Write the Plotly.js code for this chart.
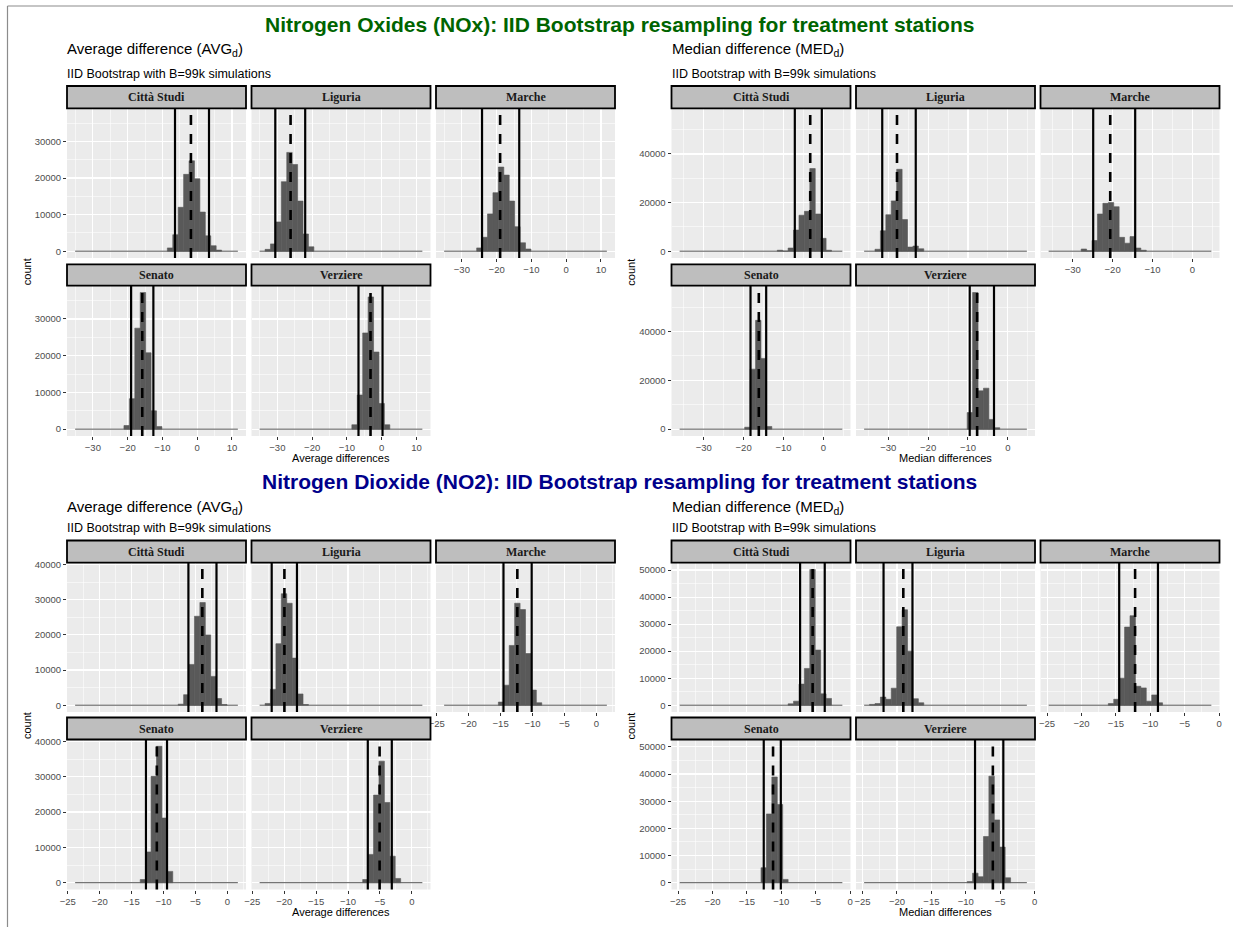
<!DOCTYPE html>
<html><head><meta charset="utf-8">
<script src="https://cdn.plot.ly/plotly-3.0.1.min.js"></script>
<style>html,body{margin:0;padding:0;background:#fff}</style>
</head><body><div id="chart" style="width:1233px;height:927px"></div>
<script>
// ---------------- DATA ----------------
const stations = ["Città Studi", "Liguria", "Marche", "Senato", "Verziere"];
const mainTitles = ["Nitrogen Oxides (NOx): IID Bootstrap resampling for treatment stations",
                    "Nitrogen Dioxide (NO2): IID Bootstrap resampling for treatment stations"];
const panelTitles = ["Average difference (AVG<sub>d</sub>)", "Median difference (MED<sub>d</sub>)",
                     "Average difference (AVG<sub>d</sub>)", "Median difference (MED<sub>d</sub>)"];
const subtitle = "IID Bootstrap with B=99k simulations";
const xTitles = ["Average differences", "Median differences", "Average differences", "Median differences"];
const yTitle = "count";

// histogram bins (30 bins): left edge of first bin, bin width  [NOx AVG, NOx MED, NO2 AVG, NO2 MED]
const binLeft = [-35.1, -36.04, -23.85, -24.77];
const binWidth = [1.56, 1.36, 0.85, 0.788];
const nBins = 30;

// tick labels
const xTicks = [[-30, -20, -10, 0, 10], [-30, -20, -10, 0], [-25, -20, -15, -10, -5, 0], [-25, -20, -15, -10, -5, 0]];
const yTicks = [[0, 10000, 20000, 30000], [0, 20000, 40000], [0, 10000, 20000, 30000, 40000], [0, 10000, 20000, 30000, 40000, 50000]];

// NOx - average difference
const noxAvgFirstBin = [17, 1, 6, 9, 17];
const noxAvgCounts = [
  [900, 4500, 12000, 21000, 24700, 19800, 10700, 4200, 1500, 300],
  [500, 2000, 8000, 19000, 27000, 23700, 13700, 4700, 1200],
  [900, 3800, 10200, 16000, 23000, 20800, 13700, 6700, 2300, 600],
  [1000, 8300, 27500, 37200, 20800, 5000, 700],
  [1200, 9300, 26200, 36000, 21000, 7000, 1200]];
const noxAvgLower = [-6.38, -30.6, -24.2, -19.0, -6.67];
const noxAvgMean  = [-1.8, -26.2, -19.0, -15.8, -3.21];
const noxAvgUpper = [3.4, -22.0, -13.5, -12.6, 0.24];

// NOx - median difference
const noxMedFirstBin = [18, 2, 6, 12, 19];
const noxMedCounts = [
  [400, 0, 1300, 8700, 14800, 16400, 34000, 15300, 5300, 400],
  [800, 8400, 15000, 20700, 33700, 13000, 1700, 2100, 1000],
  [900, 200, 4400, 15300, 19700, 20000, 18300, 5700, 3300, 6000, 1300, 400],
  [800, 24600, 44600, 29000, 1100],
  [6800, 56000, 15700, 16800, 4000, 600]];
const noxMedLower = [-7.16, -31.5, -24.87, -18.27, -9.57];
const noxMedMean  = [-3.3, -27.8, -20.6, -16.19, -7.71];
const noxMedUpper = [-0.39, -23.1, -14.34, -14.34, -3.48];

// NO2 - average difference
const no2AvgFirstBin = [19, 1, 10, 12, 19];
const no2AvgCounts = [
  [300, 3000, 11600, 25300, 29200, 20000, 8200, 1900, 200],
  [500, 4500, 17500, 31700, 29000, 13400, 3200, 200],
  [900, 5700, 17000, 29000, 27200, 14700, 4300, 700],
  [900, 8700, 30100, 38600, 18300, 3200],
  [900, 8000, 24800, 34400, 22700, 7500, 1200]];
const no2AvgLower = [-6.1, -21.96, -14.55, -12.75, -6.9];
const no2AvgMean  = [-3.92, -19.97, -12.38, -11.05, -5.05];
const no2AvgUpper = [-1.7, -18.0, -10.13, -9.45, -3.14];

// NO2 - median difference
const no2MedFirstBin = [20, 1, 11, 15, 19];
const no2MedCounts = [
  [500, 1500, 7800, 13600, 50200, 20400, 4200, 2500],
  [300, 600, 3000, 2200, 6300, 29000, 35300, 20000, 2400, 900],
  [600, 2200, 10000, 28900, 33100, 7000, 6400, 1500, 3800, 900],
  [5500, 25300, 38900, 28800, 1200],
  [400, 3500, 2200, 17000, 39200, 23100, 13100, 1800]];
const no2MedLower = [-7.27, -21.95, -14.52, -12.55, -8.66];
const no2MedMean  = [-5.45, -19.08, -12.21, -11.2, -6.07];
const no2MedUpper = [-3.69, -17.75, -8.89, -10.07, -4.55];

const firstBins = [noxAvgFirstBin, noxMedFirstBin, no2AvgFirstBin, no2MedFirstBin];
const counts = [noxAvgCounts, noxMedCounts, no2AvgCounts, no2MedCounts];
const lowers = [noxAvgLower, noxMedLower, no2AvgLower, no2MedLower];
const means = [noxAvgMean, noxMedMean, no2AvgMean, no2MedMean];
const uppers = [noxAvgUpper, noxMedUpper, no2AvgUpper, no2MedUpper];

// ---------------- LAYOUT GEOMETRY (pixels) ----------------
const W = 1233, H = 927;
const colLeft = [[67, 251.5, 436], [671.5, 856, 1040.5]];
const panelW = 179;
const blockGeom = [
  {strip: [[86, 108.3], [264.3, 285.7]], plot: [[108.3, 258], [285.7, 436]], main: 24, ptitle: 50, sub: 74, xt: 458},
  {strip: [[540.5, 562.7], [717.5, 739.5]], plot: [[562.7, 712], [739.5, 889.5]], main: 481, ptitle: 507, sub: 528, xt: 911.5}
];
const titleColors = ["#006400", "#00008B"];
const fontSans = "Liberation Sans, Arial, sans-serif";
const fontSerif = "Liberation Serif, Times New Roman, serif";
const px = x => x / W;
const py = y => 1 - y / H;

const data = [];
const layout = {
  width: W, height: H, margin: {l: 0, r: 0, t: 0, b: 0},
  paper_bgcolor: "#ffffff", plot_bgcolor: "#EBEBEB",
  showlegend: false, hovermode: false, barmode: "overlay",
  shapes: [], annotations: []
};

for (let p = 0; p < 4; p++) {
  const half = p % 2, block = Math.floor(p / 2);
  const g = blockGeom[block];
  const L = binLeft[p], w = binWidth[p], R = L + nBins * w;
  const xr = [L - 0.05 * (R - L), R + 0.05 * (R - L)];
  let M = 0;
  counts[p].forEach(arr => arr.forEach(v => { if (v > M) M = v; }));
  const yr = [-0.05 * M, 1.05 * M];
  const xd = xTicks[p][1] - xTicks[p][0];
  const yd = yTicks[p][1] - yTicks[p][0];

  for (let f = 0; f < 5; f++) {
    const s = p * 5 + f + 1;
    const sx = s === 1 ? "" : String(s);
    const col = f % 3, row = Math.floor(f / 3);
    const x0 = colLeft[half][col], x1 = x0 + panelW;
    const [yt, yb] = g.plot[row];
    const showX = row === 1 || col === 2;
    const showY = col === 0;

    layout["xaxis" + sx] = {
      domain: [px(x0), px(x1)], anchor: "y" + sx, range: xr,
      tickmode: "array", tickvals: xTicks[p], tickformat: "d",
      showgrid: true, gridcolor: "#ffffff", gridwidth: 1.1, zeroline: false, showline: false,
      minor: {tickmode: "linear", tick0: 0, dtick: xd / 2, showgrid: true, gridcolor: "#ffffff", gridwidth: 0.55},
      ticks: showX ? "outside" : "", ticklen: 3, tickcolor: "#333333", tickwidth: 1,
      showticklabels: showX, tickfont: {family: fontSans, size: 9.5, color: "#4D4D4D"},
      automargin: false, fixedrange: true
    };
    layout["yaxis" + sx] = {
      domain: [py(yb), py(yt)], anchor: "x" + sx, range: yr,
      tickmode: "array", tickvals: yTicks[p], tickformat: "d",
      showgrid: true, gridcolor: "#ffffff", gridwidth: 1.1, zeroline: false, showline: false,
      minor: {tickmode: "linear", tick0: 0, dtick: yd / 2, showgrid: true, gridcolor: "#ffffff", gridwidth: 0.55},
      ticks: showY ? "outside" : "", ticklen: 3, tickcolor: "#333333", tickwidth: 1,
      showticklabels: showY, tickfont: {family: fontSans, size: 9.5, color: "#4D4D4D"},
      automargin: false, fixedrange: true
    };

    // zero-count baseline across all bins
    data.push({type: "scatter", mode: "lines", x: [L, R], y: [0, 0],
      xaxis: "x" + sx, yaxis: "y" + sx, line: {color: "#595959", width: 1}});
    // histogram bars
    const k0 = firstBins[p][f];
    const cs = counts[p][f];
    const centers = cs.map((_, i) => L + (k0 + i + 0.5) * w);
    data.push({type: "bar", x: centers, y: cs, width: w,
      xaxis: "x" + sx, yaxis: "y" + sx,
      marker: {color: "#595959", line: {width: 0.6, color: "#595959"}}});

    // vertical lines
    const yref = "y" + sx + " domain";
    [lowers[p][f], uppers[p][f]].forEach(v => layout.shapes.push({
      type: "line", xref: "x" + sx, yref: yref, x0: v, x1: v, y0: 0, y1: 1,
      line: {color: "#000000", width: 2.2}}));
    layout.shapes.push({type: "line", xref: "x" + sx, yref: yref, x0: means[p][f], x1: means[p][f], y0: 0, y1: 1,
      line: {color: "#000000", width: 2.6, dash: "10px,9px"}});

    // strip
    const [st, sb] = g.strip[row];
    layout.shapes.push({type: "rect", xref: "paper", yref: "paper",
      x0: px(x0), x1: px(x1), y0: py(sb), y1: py(st),
      fillcolor: "#BEBEBE", line: {color: "#000000", width: 1.8}, layer: "above"});
    layout.annotations.push({xref: "paper", yref: "paper", x: px((x0 + x1) / 2), y: py((st + sb) / 2),
      xanchor: "center", yanchor: "middle", showarrow: false, text: "<b>" + stations[f] + "</b>",
      font: {family: fontSerif, size: 12, color: "#1A1A1A"}});
  }

  // panel texts
  const left = colLeft[half][0];
  const right = colLeft[half][2] + panelW;
  layout.annotations.push({xref: "paper", yref: "paper", x: px(left - 2), y: py(g.ptitle),
    xanchor: "left", yanchor: "middle", showarrow: false, text: panelTitles[p],
    font: {family: fontSans, size: 15, color: "#000000"}});
  layout.annotations.push({xref: "paper", yref: "paper", x: px(left - 2), y: py(g.sub),
    xanchor: "left", yanchor: "middle", showarrow: false, text: subtitle,
    font: {family: fontSans, size: 12.5, color: "#000000"}});
  layout.annotations.push({xref: "paper", yref: "paper", x: px((left + right) / 2), y: py(g.xt),
    xanchor: "center", yanchor: "middle", showarrow: false, text: xTitles[p],
    font: {family: fontSans, size: 11, color: "#000000"}});
  layout.annotations.push({xref: "paper", yref: "paper", x: px(left - 40), y: py((g.plot[0][0] + g.plot[1][1]) / 2),
    xanchor: "center", yanchor: "middle", showarrow: false, text: yTitle, textangle: -90,
    font: {family: fontSans, size: 11, color: "#000000"}});
}

// main titles
for (let b = 0; b < 2; b++) {
  layout.annotations.push({xref: "paper", yref: "paper", x: px(619), y: py(blockGeom[b].main),
    xanchor: "center", yanchor: "middle", showarrow: false, text: "<b>" + mainTitles[b] + "</b>",
    font: {family: fontSans, size: 21, color: titleColors[b]}});
}

// image frame lines
layout.shapes.push({type: "line", xref: "paper", yref: "paper", x0: px(7.5), x1: 1, y0: py(6), y1: py(6),
  line: {color: "#8C8C8C", width: 1.2}});
layout.shapes.push({type: "line", xref: "paper", yref: "paper", x0: px(7.5), x1: px(7.5), y0: py(6), y1: 0,
  line: {color: "#8C8C8C", width: 1.2}});

Plotly.newPlot("chart", data, layout, {staticPlot: true, displayModeBar: false});
</script></body></html>
